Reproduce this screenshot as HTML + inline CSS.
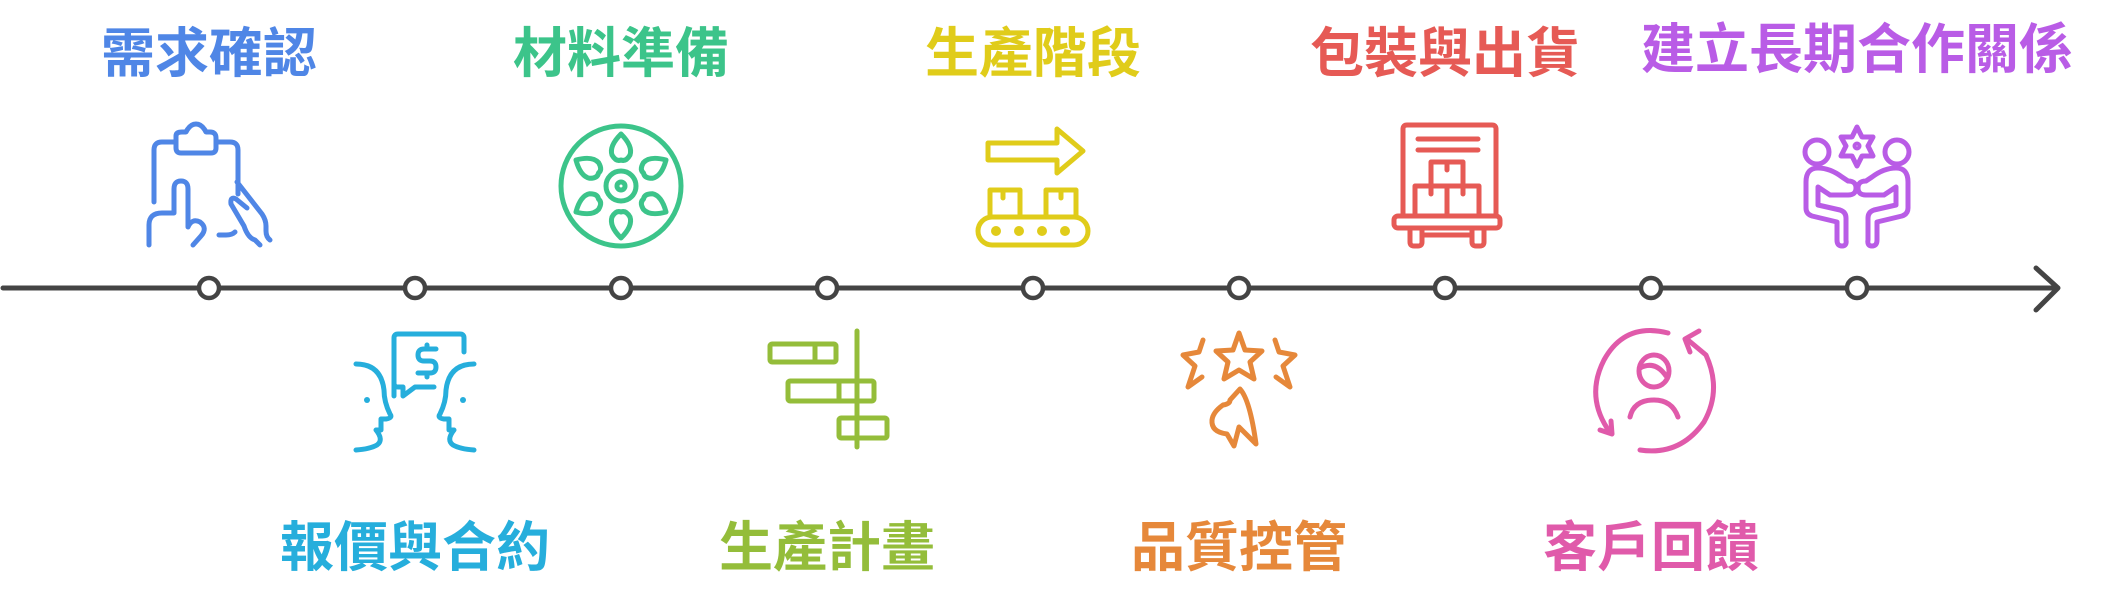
<!DOCTYPE html>
<html><head><meta charset="utf-8"><style>
html,body{margin:0;padding:0;background:#fff;width:2112px;height:613px;overflow:hidden}
svg text{font-family:"Liberation Sans","Noto Sans CJK TC",sans-serif;font-weight:700;font-size:54px;text-anchor:middle}
</style></head><body>
<svg width="2112" height="613" viewBox="0 0 2112 613" xmlns="http://www.w3.org/2000/svg">
<g fill="none" stroke-linecap="round" stroke-linejoin="round" stroke-width="5">
<line x1="3" y1="288" x2="2056" y2="288" stroke="#444" stroke-width="5"/>
<polyline points="2036,268 2058,288 2036,310" stroke="#444" stroke-width="5"/>
<g stroke="#444" stroke-width="4.5" fill="#fff">
<circle cx="209" cy="288" r="10"/><circle cx="415" cy="288" r="10"/><circle cx="621" cy="288" r="10"/>
<circle cx="827" cy="288" r="10"/><circle cx="1033" cy="288" r="10"/><circle cx="1239" cy="288" r="10"/>
<circle cx="1445" cy="288" r="10"/><circle cx="1651" cy="288" r="10"/><circle cx="1857" cy="288" r="10"/>
</g>
<g stroke="#4f86e6">
<path d="M154,202 V150 Q154,142 162,142 H176 M216,142 H230 Q238,142 238,150 V194"/>
<path d="M176,136 Q176,132 182,132 H186 Q190,124 196,124 Q202,124 206,132 H210 Q216,132 216,138 V148 Q216,153 211,153 H181 Q176,153 176,148 Z"/>
<path d="M149,245 V225 Q149,213 162,213 H174 V189 Q174,181 181,181 Q188,181 188,189 V227 Q192,218 200,222 Q208,228 201,236 L193,245"/>
<path d="M219,235 H226 Q232,235 235,232"/>
<path d="M237,182 L262,214 Q266,220 266,226 V231 Q266,237 270,240"/>
<path d="M247,208 L236,199 Q230,196 231,204 L244,226 Q248,238 255,240 L260,245"/>
</g>
<g stroke="#26aedc">
<path d="M356,364 Q381,364 384,390 Q384,402 390,414 Q393,418 386,419 H381 V430 H376 Q384,440 377,445 Q370,449 356,450"/>
<path d="M474,364 Q449,364 446,390 Q446,402 440,414 Q437,418 444,419 H449 V430 H454 Q446,440 453,445 Q460,449 474,450"/>
<path d="M394,396 V338 Q394,334 398,334 H460 Q464,334 464,338 V352 M434,387 H415 L403,396 V387 H398 Q394,387 394,383"/>
<path d="M436,349 H424 Q418,349 418,355 Q418,361 424,361 H430 Q436,361 436,367 Q436,373 430,373 H418 M427,345 V349 M427,373 V377"/>
</g>
<circle cx="367" cy="400" r="3" fill="#26aedc" stroke="none"/>
<circle cx="463" cy="400" r="3" fill="#26aedc" stroke="none"/>
<g stroke="#3cc48a">
<circle cx="621" cy="186" r="60"/>
<circle cx="621" cy="186" r="15"/><circle cx="621" cy="186" r="4"/>
<g id="pt"><path d="M621,134 Q609,146 612,155 Q616,162 621,160 Q626,162 630,155 Q633,146 621,134 Z"/></g>
<use href="#pt" transform="rotate(60 621 186)"/><use href="#pt" transform="rotate(120 621 186)"/>
<use href="#pt" transform="rotate(180 621 186)"/><use href="#pt" transform="rotate(240 621 186)"/><use href="#pt" transform="rotate(300 621 186)"/>
</g>
<g stroke="#94bd3a">
<rect x="770" y="344" width="66" height="18" rx="2"/><line x1="815" y1="344" x2="815" y2="362"/>
<rect x="788" y="381" width="86" height="20" rx="2"/><line x1="839" y1="381" x2="839" y2="401"/>
<rect x="839" y="418" width="48" height="20" rx="2"/><line x1="857" y1="418" x2="857" y2="438"/>
<line x1="857" y1="331" x2="857" y2="447"/>
</g>
<g stroke="#e0cc1a">
<path d="M988,143 H1057 V129 L1083,151 L1057,173 V160 H988 Z"/>
<rect x="990" y="190" width="30" height="27"/><rect x="1046" y="190" width="30" height="27"/>
<path d="M1003,190 V198 M1061,190 V198"/>
<rect x="978" y="217" width="110" height="28" rx="14"/>
<circle cx="996" cy="231" r="2.5"/><circle cx="1019" cy="231" r="2.5"/><circle cx="1042" cy="231" r="2.5"/><circle cx="1065" cy="231" r="2.5"/>
</g>
<g stroke="#e6883a">
<path d="M1239,333 L1245,350 L1262,351 L1250,362 L1254,379 L1239,370 L1224,379 L1228,362 L1216,351 L1233,350 Z"/>
<path d="M1203,340 L1199,352 L1183,355 L1195,366 L1188,387 L1202,377"/>
<path d="M1275,340 L1279,352 L1295,355 L1283,366 L1290,387 L1276,377"/>
<path d="M1240,389 Q1250,400 1256,444 L1239,427 L1234,446 L1227,434 Q1211,432 1212,420 Q1213,412 1223,405 Q1230,404 1230,400 Z"/>
</g>
<g stroke="#e65a55">
<path d="M1403,216 V129 Q1403,125 1407,125 H1492 Q1496,125 1496,129 V216"/>
<path d="M1418,139 H1478 M1418,150 H1478"/>
<rect x="1431" y="162" width="32" height="24"/><rect x="1415" y="186" width="64" height="30"/>
<path d="M1447,162 V170 M1431,186 V194 M1463,186 V194 M1447,186 V216"/>
<rect x="1394" y="216" width="106" height="12" rx="4"/>
<path d="M1410,228 V242 Q1410,246 1414,246 H1418 Q1422,246 1422,242 V228 M1472,228 V242 Q1472,246 1476,246 H1480 Q1484,246 1484,242 V228 M1422,235 H1472"/>
</g>
<g stroke="#e05aaa">
<path d="M1668,333 Q1625,322 1604,360 Q1586,395 1607,428 L1610,432"/>
<path d="M1600,430 L1612,434 L1611,421"/>
<path d="M1640,450 Q1680,456 1704,422 Q1722,390 1706,355 L1688,340"/>
<path d="M1699,331 L1685,339 L1690,352"/>
<ellipse cx="1654" cy="371" rx="15" ry="16"/>
<path d="M1640,368 Q1655,360 1666,376"/>
<path d="M1630,417 Q1634,400 1654,400 Q1672,400 1678,417"/>
</g>
<g stroke="#b95ce6">
<path d="M1857,127 L1862,137 L1873,137 L1868,146 L1873,156 L1862,156 L1857,166 L1852,156 L1841,156 L1846,146 L1841,137 L1852,137 Z"/>
<circle cx="1857" cy="146" r="2"/>
<circle cx="1817" cy="152" r="12"/><circle cx="1897" cy="152" r="12"/>
<path d="M1842,177 Q1830,168 1818,168 Q1806,168 1806,182 V208 Q1806,214 1812,216 L1837,222 V240 Q1837,246 1842,246 Q1847,246 1846,240 V218 Q1846,212 1840,210 L1818,205 V187 L1830,195 H1848 Q1856,195 1856,188 Q1856,181 1848,181 Z"/>
<path d="M1872,177 Q1884,168 1896,168 Q1908,168 1908,182 V208 Q1908,214 1902,216 L1877,222 V240 Q1877,246 1872,246 Q1867,246 1868,240 V218 Q1868,212 1874,210 L1896,205 V187 L1884,195 H1866 Q1858,195 1858,188 Q1858,181 1866,181 Z"/>
</g>
</g>
<text x="209" y="72" fill="#4f86e6">需求確認</text>
<text x="621" y="72" fill="#3cc48a">材料準備</text>
<text x="1033" y="72" fill="#e0cc1a">生產階段</text>
<text x="1445" y="72" fill="#e65a55">包裝與出貨</text>
<text x="1857" y="68" fill="#b95ce6">建立長期合作關係</text>
<text x="415" y="566" fill="#26aedc">報價與合約</text>
<text x="827" y="566" fill="#94bd3a">生產計畫</text>
<text x="1239" y="566" fill="#e6883a">品質控管</text>
<text x="1651" y="566" fill="#e05aaa">客戶回饋</text>
</svg>
</body></html>
